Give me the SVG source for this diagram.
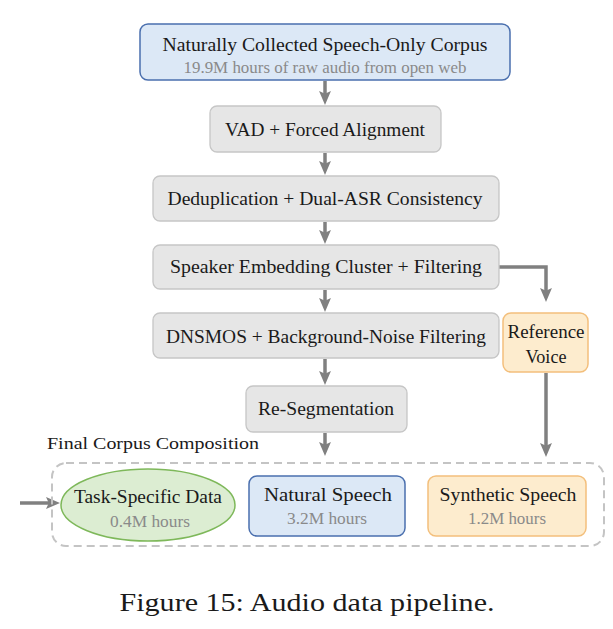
<svg xmlns="http://www.w3.org/2000/svg" width="613" height="629" viewBox="0 0 613 629" font-family="'Liberation Serif', serif">
<defs>
<marker id="ah" markerWidth="4" markerHeight="4" refX="2" refY="2" orient="auto" markerUnits="strokeWidth"><path d="M0,0.3 L4,2 L0,3.7 L0.8,2 Z" fill="#808080"/></marker>
<style>
text{font-family:"Liberation Serif",serif;text-anchor:middle;fill:#1a1a1a}
.t{font-size:18.5px}
.s{font-size:16px;fill:#8a8a8a}
.gray{fill:#e6e6e6;stroke:#c6c6c6;stroke-width:1.3}
.blue{fill:#dce8f6;stroke:#4a6fae;stroke-width:1.5}
.orange{fill:#fdecce;stroke:#f3bf7c;stroke-width:1.5}
.green{fill:#dcedd2;stroke:#7eb85a;stroke-width:1.5}
.c{fill:none;stroke:#808080;stroke-width:3.5}
</style>
</defs>
<rect width="613" height="629" fill="#fff"/>
<g id="connectors">
<line class="c" x1="325" y1="81" x2="325" y2="98" marker-end="url(#ah)"/>
<line class="c" x1="325" y1="153" x2="325" y2="168" marker-end="url(#ah)"/>
<line class="c" x1="325" y1="222" x2="325" y2="237" marker-end="url(#ah)"/>
<line class="c" x1="325" y1="290" x2="325" y2="305" marker-end="url(#ah)"/>
<line class="c" x1="325" y1="359" x2="325" y2="378" marker-end="url(#ah)"/>
<line class="c" x1="325" y1="433" x2="325" y2="449" marker-end="url(#ah)"/>
<polyline class="c" points="499,267 546,267 546,295" marker-end="url(#ah)"/>
<line class="c" x1="546" y1="373" x2="546" y2="450" marker-end="url(#ah)"/>
<line class="c" x1="20" y1="503" x2="53" y2="503" marker-end="url(#ah)"/>
</g>
<g id="group-final">
<rect x="52" y="463" width="552" height="83" rx="14" fill="none" stroke="#c4c4c4" stroke-width="2" stroke-dasharray="8,5"/>
<text x="153" y="449" style="font-size:17.5px" textLength="212" lengthAdjust="spacingAndGlyphs">Final Corpus Composition</text>
</g>
<g id="corpus">
<rect class="blue" x="140" y="24" width="370" height="56" rx="8"/>
<text class="t" x="325" y="51" textLength="325" lengthAdjust="spacingAndGlyphs">Naturally Collected Speech-Only Corpus</text>
<text class="s" x="325" y="73" textLength="283" lengthAdjust="spacingAndGlyphs">19.9M hours of raw audio from open web</text>
</g>
<g id="vad">
<rect class="gray" x="210" y="106" width="231" height="46" rx="7"/>
<text class="t" x="325" y="136" textLength="200" lengthAdjust="spacingAndGlyphs">VAD + Forced Alignment</text>
</g>
<g id="dedup">
<rect class="gray" x="153" y="176" width="346" height="45" rx="7"/>
<text class="t" x="325" y="205" textLength="315" lengthAdjust="spacingAndGlyphs">Deduplication + Dual-ASR Consistency</text>
</g>
<g id="speaker">
<rect class="gray" x="153" y="245" width="346" height="44" rx="7"/>
<text class="t" x="326" y="273" textLength="312" lengthAdjust="spacingAndGlyphs">Speaker Embedding Cluster + Filtering</text>
</g>
<g id="dnsmos">
<rect class="gray" x="153" y="313" width="346" height="45" rx="7"/>
<text class="t" x="326" y="343" textLength="320" lengthAdjust="spacingAndGlyphs">DNSMOS + Background-Noise Filtering</text>
</g>
<g id="refvoice">
<rect class="orange" x="503" y="313" width="85" height="59" rx="8"/>
<text class="t" x="546" y="338" textLength="77" lengthAdjust="spacingAndGlyphs">Reference</text>
<text class="t" x="546" y="363" textLength="41" lengthAdjust="spacingAndGlyphs">Voice</text>
</g>
<g id="reseg">
<rect class="gray" x="246" y="386" width="161" height="46" rx="7"/>
<text class="t" x="326" y="415" textLength="136" lengthAdjust="spacingAndGlyphs">Re-Segmentation</text>
</g>
<g id="task">
<ellipse class="green" cx="148" cy="505" rx="87" ry="36"/>
<text class="t" x="148" y="503" textLength="148" lengthAdjust="spacingAndGlyphs">Task-Specific Data</text>
<text class="s" x="150" y="527" textLength="80" lengthAdjust="spacingAndGlyphs">0.4M hours</text>
</g>
<g id="natural">
<rect class="blue" x="249" y="476" width="156" height="60" rx="8"/>
<text class="t" x="328" y="501" textLength="128" lengthAdjust="spacingAndGlyphs">Natural Speech</text>
<text class="s" x="327" y="524" textLength="80" lengthAdjust="spacingAndGlyphs">3.2M hours</text>
</g>
<g id="synthetic">
<rect class="orange" x="428" y="476" width="158" height="60" rx="8"/>
<text class="t" x="508" y="501" textLength="137" lengthAdjust="spacingAndGlyphs">Synthetic Speech</text>
<text class="s" x="507" y="524" textLength="78" lengthAdjust="spacingAndGlyphs">1.2M hours</text>
</g>
<text x="307" y="611" style="font-size:26px" textLength="375" lengthAdjust="spacingAndGlyphs">Figure 15: Audio data pipeline.</text>
</svg>
